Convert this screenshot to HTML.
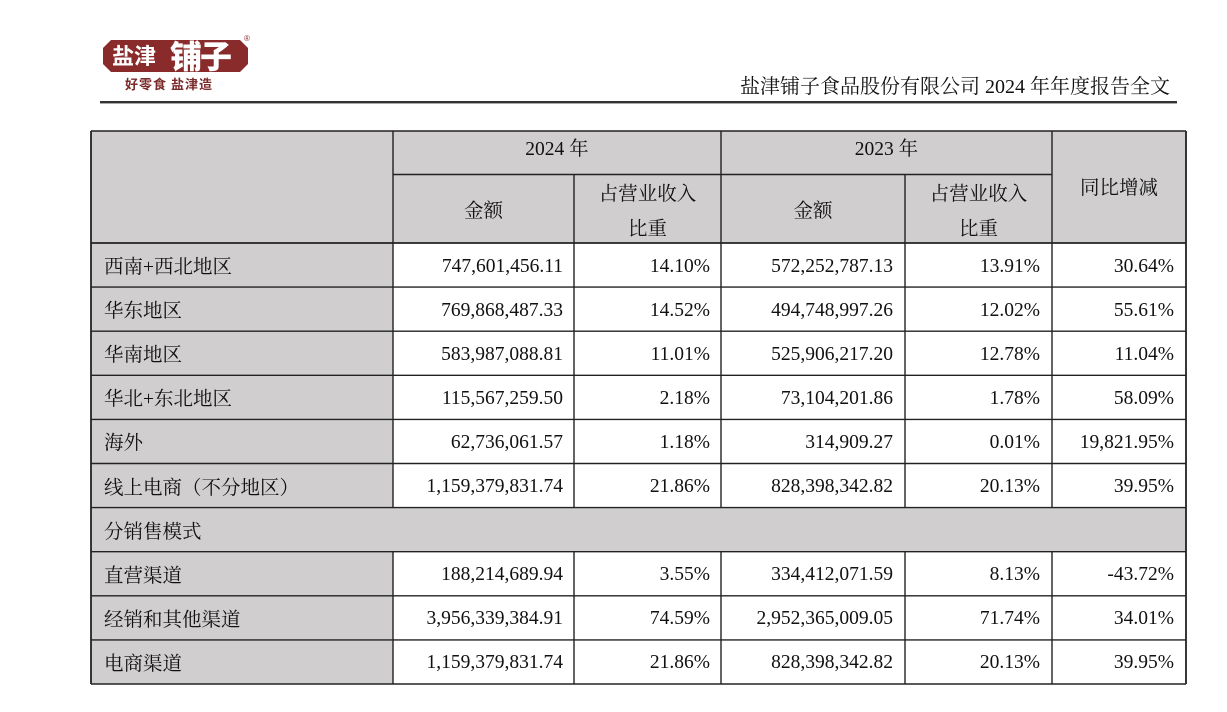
<!DOCTYPE html>
<html>
<head>
<meta charset="utf-8">
<style>
html,body{margin:0;padding:0;background:#fff;}
body{width:1227px;height:712px;position:relative;overflow:hidden;font-family:"Liberation Serif","Noto Serif CJK SC",serif;color:#111;}
.title{position:absolute;left:740px;top:77px;font-size:20px;line-height:20px;white-space:nowrap;font-family:"Liberation Serif","Noto Serif CJK SC",serif;color:#111;}
.hl{position:absolute;left:100px;top:101px;width:1077px;height:2px;background:#333;}
.hl2{position:absolute;left:100px;top:103px;width:1077px;height:1px;background:#aaa;}
.row{position:absolute;left:91px;height:44px;display:flex;font-size:19.5px;}
.row div{height:100%;display:flex;align-items:center;box-sizing:border-box;white-space:nowrap;}
.l{width:302px;background:#d0cecf;padding-left:13px;}
.row div.a,.row div.b,.row div.c,.row div.d,.row div.e{padding-top:3px;}
.a{width:181px;justify-content:flex-end;padding-right:11px;}
.b{width:147px;justify-content:flex-end;padding-right:11px;}
.c{width:184px;justify-content:flex-end;padding-right:12px;}
.d{width:147px;justify-content:flex-end;padding-right:12px;}
.e{width:134px;justify-content:flex-end;padding-right:12px;}
.hd{position:absolute;font-size:19.5px;display:flex;align-items:center;justify-content:center;text-align:center;white-space:nowrap;}
</style>
</head>
<body>
<!-- logo -->
<svg style="position:absolute;left:0;top:0" width="270" height="100">
  <polygon points="111,40 240,40 248,48 248,64 240,72 111,72 103,64 103,48" fill="#8a2b2b"/>
  <text x="112" y="64" font-family="Noto Sans CJK SC,sans-serif" font-weight="bold" font-size="22" fill="#fff">盐津</text>
  <text x="170" y="68" font-family="Noto Sans CJK SC,sans-serif" font-weight="900" font-size="32" fill="#fff" letter-spacing="-2">铺子</text>
  <text x="244" y="41" font-family="Liberation Sans,sans-serif" font-size="8" fill="#8a2b2b">®</text>
  <text x="125" y="89" font-family="Noto Sans CJK SC,sans-serif" font-weight="bold" font-size="13" fill="#7b2a2a" letter-spacing="1">好零食 盐津造</text>
</svg>
<div class="title">盐津铺子食品股份有限公司 2024 年年度报告全文</div>
<div class="hl"></div>
<div class="hl2"></div>

<!-- header backgrounds -->
<div style="position:absolute;left:91px;top:131px;width:1095px;height:112px;background:#d0cecf;"></div>
<div style="position:absolute;left:91px;top:243px;width:302px;height:441px;background:#d0cecf;"></div>
<div style="position:absolute;left:91px;top:507.6px;width:1095px;height:44.1px;background:#d0cecf;"></div>

<!-- header texts -->
<div class="hd" style="left:393px;top:131px;width:328px;height:32px;">2024 年</div>
<div class="hd" style="left:721px;top:131px;width:331px;height:32px;">2023 年</div>
<div class="hd" style="left:1052px;top:169px;width:134px;height:34px;">同比增减</div>
<div class="hd" style="left:393px;top:192px;width:181px;height:34px;">金额</div>
<div class="hd" style="left:721px;top:192px;width:184px;height:34px;">金额</div>
<div class="hd" style="left:574px;top:175px;width:147px;height:34px;">占营业收入</div>
<div class="hd" style="left:574px;top:210px;width:147px;height:34px;">比重</div>
<div class="hd" style="left:905px;top:175px;width:147px;height:34px;">占营业收入</div>
<div class="hd" style="left:905px;top:210px;width:147px;height:34px;">比重</div>

<!-- rows -->
<div class="row" style="top:243px;"><div class="l">西南+西北地区</div><div class="a">747,601,456.11</div><div class="b">14.10%</div><div class="c">572,252,787.13</div><div class="d">13.91%</div><div class="e">30.64%</div></div>
<div class="row" style="top:287.1px;"><div class="l">华东地区</div><div class="a">769,868,487.33</div><div class="b">14.52%</div><div class="c">494,748,997.26</div><div class="d">12.02%</div><div class="e">55.61%</div></div>
<div class="row" style="top:331.2px;"><div class="l">华南地区</div><div class="a">583,987,088.81</div><div class="b">11.01%</div><div class="c">525,906,217.20</div><div class="d">12.78%</div><div class="e">11.04%</div></div>
<div class="row" style="top:375.3px;"><div class="l">华北+东北地区</div><div class="a">115,567,259.50</div><div class="b">2.18%</div><div class="c">73,104,201.86</div><div class="d">1.78%</div><div class="e">58.09%</div></div>
<div class="row" style="top:419.4px;"><div class="l">海外</div><div class="a">62,736,061.57</div><div class="b">1.18%</div><div class="c">314,909.27</div><div class="d">0.01%</div><div class="e">19,821.95%</div></div>
<div class="row" style="top:463.5px;"><div class="l">线上电商（不分地区）</div><div class="a">1,159,379,831.74</div><div class="b">21.86%</div><div class="c">828,398,342.82</div><div class="d">20.13%</div><div class="e">39.95%</div></div>
<div class="row" style="top:507.6px;"><div class="l" style="background:transparent;">分销售模式</div></div>
<div class="row" style="top:551.7px;"><div class="l">直营渠道</div><div class="a">188,214,689.94</div><div class="b">3.55%</div><div class="c">334,412,071.59</div><div class="d">8.13%</div><div class="e">-43.72%</div></div>
<div class="row" style="top:595.8px;"><div class="l">经销和其他渠道</div><div class="a">3,956,339,384.91</div><div class="b">74.59%</div><div class="c">2,952,365,009.05</div><div class="d">71.74%</div><div class="e">34.01%</div></div>
<div class="row" style="top:639.9px;"><div class="l">电商渠道</div><div class="a">1,159,379,831.74</div><div class="b">21.86%</div><div class="c">828,398,342.82</div><div class="d">20.13%</div><div class="e">39.95%</div></div>

<!-- grid lines -->
<svg style="position:absolute;left:0;top:0" width="1227" height="712">
  <g stroke="#222" stroke-width="1.4" fill="none">
    <line x1="91" y1="131" x2="1186" y2="131"/>
    <line x1="393" y1="174.5" x2="1052" y2="174.5"/>
    <line x1="91" y1="243" x2="1186" y2="243" stroke-width="1.8"/>
    <line x1="91" y1="287.1" x2="1186" y2="287.1"/>
    <line x1="91" y1="331.2" x2="1186" y2="331.2"/>
    <line x1="91" y1="375.3" x2="1186" y2="375.3"/>
    <line x1="91" y1="419.4" x2="1186" y2="419.4"/>
    <line x1="91" y1="463.5" x2="1186" y2="463.5"/>
    <line x1="91" y1="507.6" x2="1186" y2="507.6"/>
    <line x1="91" y1="551.7" x2="1186" y2="551.7"/>
    <line x1="91" y1="595.8" x2="1186" y2="595.8"/>
    <line x1="91" y1="639.9" x2="1186" y2="639.9"/>
    <line x1="91" y1="684" x2="1186" y2="684"/>
    <line x1="91" y1="131" x2="91" y2="684" stroke-width="1.8"/>
    <line x1="1186" y1="131" x2="1186" y2="684" stroke-width="1.8"/>
    <line x1="393" y1="131" x2="393" y2="507.6"/>
    <line x1="393" y1="551.7" x2="393" y2="684"/>
    <line x1="721" y1="131" x2="721" y2="507.6"/>
    <line x1="721" y1="551.7" x2="721" y2="684"/>
    <line x1="1052" y1="131" x2="1052" y2="507.6"/>
    <line x1="1052" y1="551.7" x2="1052" y2="684"/>
    <line x1="574" y1="174.5" x2="574" y2="507.6"/>
    <line x1="574" y1="551.7" x2="574" y2="684"/>
    <line x1="905" y1="174.5" x2="905" y2="507.6"/>
    <line x1="905" y1="551.7" x2="905" y2="684"/>
  </g>
</svg>
</body>
</html>
